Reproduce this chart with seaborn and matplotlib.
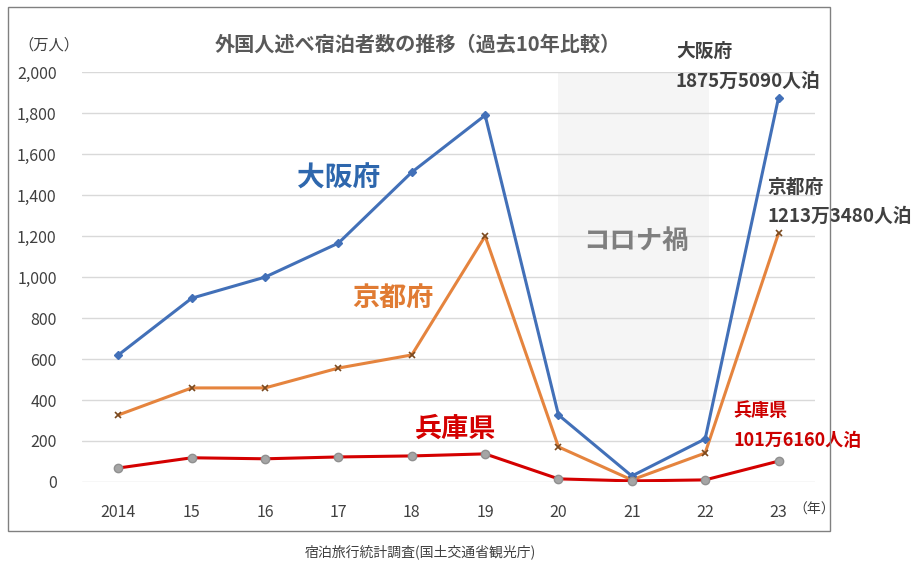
import matplotlib
matplotlib.use("Agg")
import matplotlib.pyplot as plt
import seaborn as sns
import pandas as pd
from matplotlib.patches import Rectangle

# data (万人)
years = ["2014", "15", "16", "17", "18", "19", "20", "21", "22", "23"]
osaka = [620, 897, 1000, 1166, 1512, 1790, 327, 29, 210, 1875.5]
kyoto = [327, 459, 459, 556, 620, 1200, 171, 10, 141, 1213.3]
hyogo = [68, 118, 113, 122, 127, 137, 15, 5, 10, 101.6]
yticks = [0, 200, 400, 600, 800, 1000, 1200, 1400, 1600, 1800, 2000]

df = pd.DataFrame({
    "year": years * 3,
    "pos": list(range(len(years))) * 3,
    "value": osaka + kyoto + hyogo,
    "pref": ["大阪府"] * 10 + ["京都府"] * 10 + ["兵庫県"] * 10,
})

sns.set_style("white")
plt.rcParams['font.family'] = ['Noto Sans CJK JP', 'DejaVu Sans']

fig = plt.figure(figsize=(9.18, 5.69), dpi=100)
ax = fig.add_axes([0.089, 0.153, 0.799, 0.720])

# corona shading
ax.add_patch(Rectangle((6.0, 350), 2.05, 1650, facecolor="#f5f5f5", edgecolor="none", zorder=0))

for y in yticks:
    ax.axhline(y, color="#d9d9d9", lw=1, zorder=0.5)

colors = {"大阪府": "#4270b8", "京都府": "#e5843e", "兵庫県": "#d40000"}
sns.lineplot(data=df, x="pos", y="value", hue="pref", palette=colors,
             linewidth=2.2, legend=False, ax=ax, zorder=3)

sub = df[df.pref == "大阪府"]
ax.plot(sub.pos, sub.value, ls="none", marker="D", ms=4, color="#4270b8", zorder=4, clip_on=False)
sub = df[df.pref == "京都府"]
ax.plot(sub.pos, sub.value, ls="none", marker="x", ms=5, mew=1.2, color="#7a4a20", zorder=4, clip_on=False)
sub = df[df.pref == "兵庫県"]
ax.plot(sub.pos, sub.value, ls="none", marker="o", ms=6, mfc="#a5a5a5", mec="#909090", zorder=4, clip_on=False)

ax.set_xlim(-0.5, 9.5)
ax.set_ylim(0, 2000)
ax.set_xticks(range(len(years)))
ax.set_xticklabels(years, fontsize=11.5, color="#404040")
ax.set_yticks(yticks)
ax.set_yticklabels([f"{v:,}" for v in yticks], fontsize=11.5, color="#404040")
ax.tick_params(axis="x", pad=16, length=0)
ax.tick_params(axis="y", pad=18, length=0)
for s in ax.spines.values():
    s.set_visible(False)
ax.set_xlabel("")
ax.set_ylabel("")

# texts
fig.text(0.455, 0.922, "外国人述べ宿泊者数の推移（過去10年比較）", ha="center", va="center",
         fontsize=14.5, fontweight="bold", color="#595959")
fig.text(0.02, 0.920, "（万人）", ha="left", va="center", fontsize=11, color="#404040")
fig.text(0.864, 0.104, "（年）", ha="left", va="center", fontsize=10, color="#404040")

ax.text(3.0, 1480, "大阪府", fontsize=20, fontweight="bold", color="#2e67ad", ha="center", va="center")
ax.text(3.75, 900, "京都府", fontsize=19.5, fontweight="bold", color="#e07b33", ha="center", va="center")
ax.text(4.6, 260, "兵庫県", fontsize=19.5, fontweight="bold", color="#d40000", ha="center", va="center")
ax.text(7.05, 1175, "コロナ禍", fontsize=19, fontweight="bold", color="#7f7f7f", ha="center", va="center")

ax.text(7.6, 2100, "大阪府", fontsize=13.5, fontweight="bold", color="#404040", ha="left", va="center")
ax.text(7.6, 1955, "1875万5090人泊", fontsize=13.5, fontweight="bold", color="#404040", ha="left", va="center")
ax.text(8.85, 1440, "京都府", fontsize=13.5, fontweight="bold", color="#404040", ha="left", va="center")
ax.text(8.85, 1295, "1213万3480人泊", fontsize=13.5, fontweight="bold", color="#404040", ha="left", va="center")
ax.text(8.38, 350, "兵庫県", fontsize=13, fontweight="bold", color="#cc0000", ha="left", va="center")
ax.text(8.38, 200, "101万6160人泊", fontsize=13, fontweight="bold", color="#cc0000", ha="left", va="center")

# frame and source
fig.add_artist(Rectangle((0.0087, 0.0668), 0.8954, 0.921, transform=fig.transFigure,
                         fill=False, edgecolor="#808080", lw=1))
fig.text(0.458, 0.030, "宿泊旅行統計調査(国土交通省観光庁)", ha="center", va="center", fontsize=10, color="#404040")

fig.savefig("out.png", dpi=100)
